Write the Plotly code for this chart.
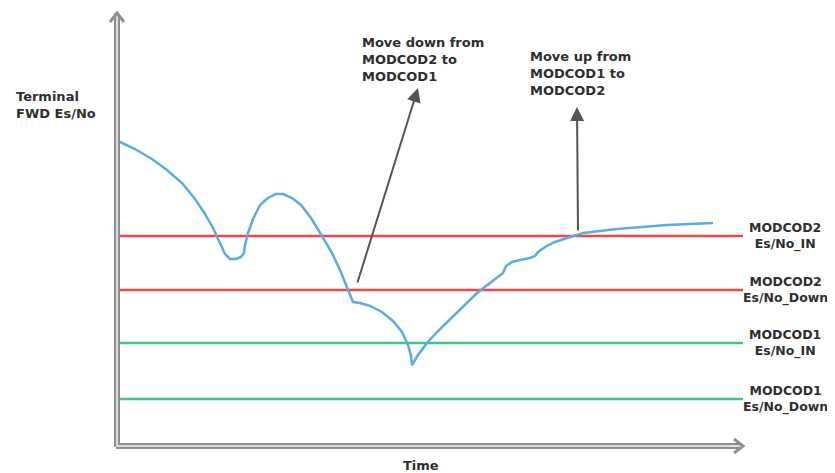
import plotly.graph_objects as go

# ---- data (time units from y-axis, Es/No units above x-axis) ----
curve_time = [1, 18, 35, 50, 65, 78, 88, 96, 103, 108, 113, 119, 124, 127, 128, 131, 136, 143,
              151, 159, 166, 175, 184, 194, 205, 215, 223, 229, 233, 236, 243, 253, 265, 276,
              285, 291, 294, 295, 301, 310, 321, 333, 347, 360, 373, 383, 386, 389, 395, 403,
              413, 418, 421, 428, 438, 450, 466, 483, 500, 525, 550, 573, 596]
curve_esno = [305, 297, 287, 276, 263, 247, 232, 218, 203, 192, 187, 187, 189, 193, 201, 213,
              227, 241, 248, 252, 252, 248, 241, 228, 210, 193, 176, 161, 150, 144, 143, 140,
              134, 125, 114, 101, 90, 81, 91, 103, 115, 127, 141, 153, 163, 170, 173, 180, 184,
              186, 188, 190, 194, 199, 204, 208, 213, 215, 217, 219, 221, 222, 223]

threshold_names = ["MODCOD2<br>Es/No_IN", "MODCOD2<br>Es/No_Down",
                   "MODCOD1<br>Es/No_IN", "MODCOD1<br>Es/No_Down"]
threshold_values = [210, 156, 103, 47]
threshold_colors = ["#f24545", "#f24545", "#3ec67e", "#3ec67e"]
threshold_end = 626

events_text = ["Move down from<br>MODCOD2 to<br>MODCOD1", "Move up from<br>MODCOD1 to<br>MODCOD2"]
event_tail_time = [240, 461]
event_tail_esno = [162, 214]
event_tip_time = [301, 460]
event_tip_esno = [358, 339]
event_text_time = [243, 411]
event_text_esno = [387, 373]

y_label = "Terminal<br>FWD Es/No"
x_label = "Time"

FONT = "DejaVu Sans"
TXT = "#2e2e2e"
FS = 13

fig = go.Figure()

# threshold lines
for v, c in zip(threshold_values, threshold_colors):
    fig.add_trace(go.Scatter(x=[0, threshold_end], y=[v, v], mode="lines",
                             line=dict(color=c, width=2.5), hoverinfo="skip", showlegend=False))

# Es/No curve
fig.add_trace(go.Scatter(x=curve_time, y=curve_esno, mode="lines",
                         line=dict(color="#5aade0", width=2.5), showlegend=False))

shapes = []
# axes drawn as hollow gray arrows
ax_top = 433
ax_right = 626
for w, col in ((6, "#8f8f8f"), (2, "#dcdcdc")):
    shapes.append(dict(type="line", xref="x", yref="y", x0=0, y0=-1, x1=0, y1=ax_top - 3,
                       line=dict(color=col, width=w), layer="above"))
    shapes.append(dict(type="line", xref="x", yref="y", x0=-1, y0=0, x1=ax_right - 3, y1=0,
                       line=dict(color=col, width=w), layer="above"))
shapes.append(dict(type="path", xref="x", yref="y",
                   path=f"M -7 {ax_top-9} L 0 {ax_top} L 7 {ax_top-9}",
                   line=dict(color="#8f8f8f", width=3), layer="above"))
shapes.append(dict(type="path", xref="x", yref="y",
                   path=f"M {ax_right-9} 7 L {ax_right} 0 L {ax_right-9} -7",
                   line=dict(color="#8f8f8f", width=3), layer="above"))

annotations = []
# threshold labels
for name, v in zip(threshold_names, threshold_values):
    annotations.append(dict(x=668, y=v, xref="x", yref="y", text=f"<b>{name}</b>",
                            showarrow=False, xanchor="center", yanchor="middle",
                            font=dict(family=FONT, size=12.5, color=TXT)))
# event arrows and texts
for i in range(2):
    annotations.append(dict(x=event_tip_time[i], y=event_tip_esno[i], xref="x", yref="y",
                            ax=event_tail_time[i], ay=event_tail_esno[i], axref="x", ayref="y",
                            text="", showarrow=True, arrowhead=2, arrowsize=1.4, arrowwidth=2,
                            arrowcolor="#555555"))
    annotations.append(dict(x=event_text_time[i], y=event_text_esno[i], xref="x", yref="y",
                            text=f"<b>{events_text[i]}</b>", showarrow=False, align="left",
                            xanchor="left", yanchor="middle",
                            font=dict(family=FONT, size=FS, color=TXT)))
annotations.append(dict(x=-103, y=341, xref="x", yref="y", text=f"<b>{y_label}</b>",
                        showarrow=False, align="left", xanchor="left", yanchor="middle",
                        font=dict(family=FONT, size=FS, color=TXT)))
annotations.append(dict(x=304, y=-19, xref="x", yref="y", text=f"<b>{x_label}</b>",
                        showarrow=False, xanchor="center", yanchor="middle",
                        font=dict(family=FONT, size=FS, color=TXT)))

# the page body adds an 8px offset, so the ranges are shifted to compensate
fig.update_layout(
    width=835, height=473,
    margin=dict(l=0, r=0, t=0, b=0),
    paper_bgcolor="white", plot_bgcolor="white",
    xaxis=dict(range=[-109, 726], visible=False, fixedrange=True),
    yaxis=dict(range=[-35, 438], visible=False, fixedrange=True),
    shapes=shapes, annotations=annotations,
    showlegend=False,
)

fig.write_html("out.html")
